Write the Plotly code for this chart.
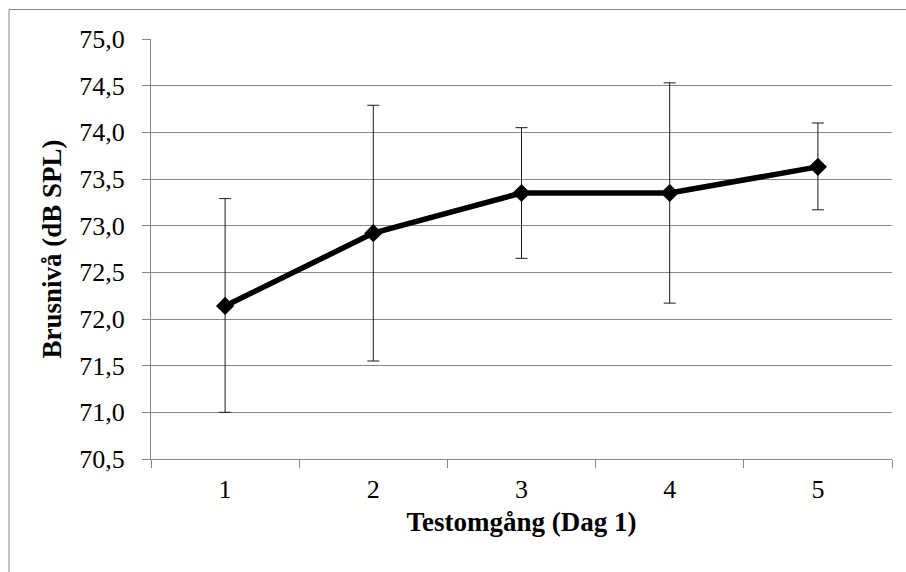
import plotly.graph_objects as go

categories = ["1", "2", "3", "4", "5"]
values = [72.14, 72.92, 73.35, 73.35, 73.63]
err_upper = [73.29, 74.29, 74.05, 74.53, 74.10]
err_lower = [71.00, 71.55, 72.65, 72.17, 73.17]

plus = [u - v for u, v in zip(err_upper, values)]
minus = [v - l for v, l in zip(values, err_lower)]

fig = go.Figure()
fig.add_trace(go.Scatter(
    x=categories, y=values, mode="lines+markers",
    line=dict(color="black", width=5.5),
    marker=dict(symbol="diamond", size=14, color="black"),
    error_y=dict(type="data", symmetric=False, array=plus, arrayminus=minus,
                 color="#1a1a1a", thickness=1, width=6),
    showlegend=False,
))

font_family = "Times New Roman"
fig.update_layout(
    width=906, height=572,
    margin=dict(l=151, r=14, t=39, b=113),
    paper_bgcolor="white", plot_bgcolor="white",
    separators=",.",
    font=dict(family=font_family, size=26, color="black"),
    xaxis=dict(
        type="category", range=[-0.5, 4.5], showgrid=False,
        showline=True, linecolor="#868686", linewidth=1,
        ticks="outside", tickson="boundaries", ticklen=8, tickcolor="#868686",
        tickfont=dict(family=font_family, size=26), ticklabelstandoff=7,
        title=dict(text="<b>Testomgång (Dag 1)</b>", font=dict(family=font_family, size=27), standoff=8),
    ),
    yaxis=dict(
        range=[70.5, 75.0], dtick=0.5, tickformat=".1f",
        showgrid=True, gridcolor="#868686", gridwidth=1,
        showline=True, linecolor="#868686", linewidth=1,
        ticks="outside", ticklen=8, tickcolor="#868686",
        tickfont=dict(family=font_family, size=26), zeroline=False, ticklabelstandoff=12,
        title=dict(text="<b>Brusnivå (dB SPL)</b>", font=dict(family=font_family, size=27), standoff=9),
    ),
    shapes=[dict(
        type="rect", xref="paper", yref="paper",
        x0=(9 - 151) / 741, x1=(920 - 151) / 741,
        y0=(459 - 590) / 420, y1=(459 - 9.5) / 420,
        line=dict(color="#868686", width=1), fillcolor="rgba(0,0,0,0)", layer="below",
    )],
)

fig.write_html("out.html")
